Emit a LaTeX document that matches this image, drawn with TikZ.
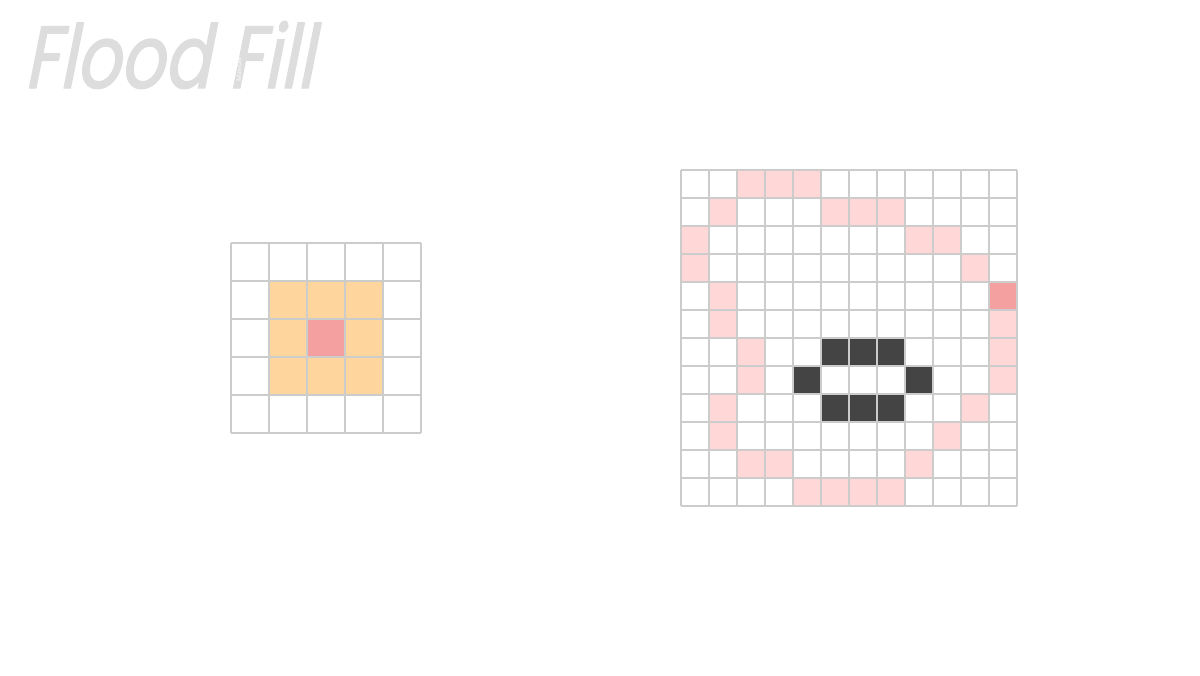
\documentclass[tikz,border=0pt]{standalone}
\usepackage{fontspec}
\usepackage{tikz}
\usetikzlibrary{positioning}
\newfontfamily\titlefont[FakeSlant=0.2, FakeStretch=0.78, FakeBold=1.6]{Poppins}
\definecolor{GridGray}{HTML}{CCCCCC}
\definecolor{TitleGray}{HTML}{DDDDDD}
\definecolor{SeedRed}{HTML}{F4A0A0}
\definecolor{NeighOrange}{HTML}{FFD59E}
\definecolor{EdgePink}{HTML}{FFD7D7}
\definecolor{WallDark}{HTML}{444444}

\begin{document}
\begin{tikzpicture}[x=0.75pt, y=-0.75pt]
    \useasboundingbox (0,0) rectangle (1200,675);
    \tikzset{gridline/.style={color=GridGray, line width=1.6pt}}

    % title
    \node[anchor=base west, inner sep=0pt, color=TitleGray, font=\titlefont\fontsize{66}{66}\selectfont] (title) at (24,88) {Flood Fill};
    \node[rotate=90, inner sep=0pt, color=white, font=\sffamily\fontsize{5}{5}\selectfont] (mark) at (239,69) {MimOre};

    % small grid: seed and its 8 neighbours
    \begin{scope}[shift={(231,243)}, x=28.5pt, y=-28.5pt]
        \fill[NeighOrange] (1,1) rectangle (4,4);
        \fill[SeedRed] (2,2) rectangle (3,3);
        \foreach \i in {0,...,5} {
            \draw[gridline] (\i,0) -- (\i,5);
            \draw[gridline] (0,\i) -- (5,\i);
        }
    \end{scope}

    % big grid: boundary of the filled region
    \begin{scope}[shift={(681,170)}, x=21pt, y=-21pt]
        \foreach \c/\r in {2/0,3/0,4/0, 1/1,5/1,6/1,7/1, 0/2,8/2,9/2, 0/3,10/3, 1/4,
                           1/5,11/5, 2/6,11/6, 2/7,11/7, 1/8,10/8, 1/9,9/9,
                           2/10,3/10,8/10, 4/11,5/11,6/11,7/11}
            \fill[EdgePink] (\c,\r) rectangle +(1,1);
        \fill[SeedRed] (11,4) rectangle +(1,1);
        \foreach \c/\r in {5/6,6/6,7/6, 4/7,8/7, 5/8,6/8,7/8}
            \fill[WallDark] (\c,\r) rectangle +(1,1);
        \foreach \i in {0,...,12} {
            \draw[gridline] (\i,0) -- (\i,12);
            \draw[gridline] (0,\i) -- (12,\i);
        }
    \end{scope}
\end{tikzpicture}
\end{document}
